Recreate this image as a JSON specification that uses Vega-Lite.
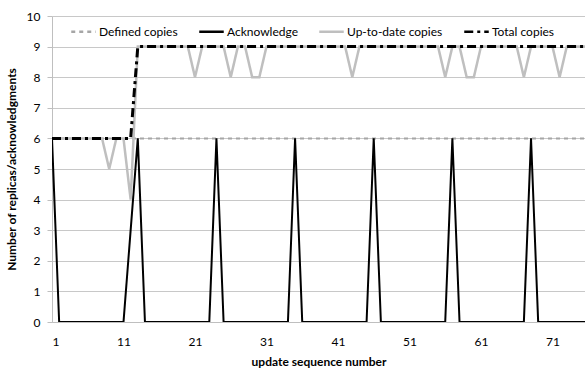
{
  "$schema": "https://vega.github.io/schema/vega-lite/v6.json",
  "width": 533,
  "height": 306,
  "autosize": {"type": "none"},
  "padding": {"left": 52, "top": 16, "right": 0, "bottom": 48},
  "config": {"view": {"stroke": null}, "font": "Lato", "background": "white"},
  "data": {"values": [
    {"x":1,"Defined copies":6,"Acknowledge":6,"Up-to-date copies":6,"Total copies":6},
    {"x":2,"Defined copies":6,"Acknowledge":0,"Up-to-date copies":6,"Total copies":6},
    {"x":3,"Defined copies":6,"Acknowledge":0,"Up-to-date copies":6,"Total copies":6},
    {"x":4,"Defined copies":6,"Acknowledge":0,"Up-to-date copies":6,"Total copies":6},
    {"x":5,"Defined copies":6,"Acknowledge":0,"Up-to-date copies":6,"Total copies":6},
    {"x":6,"Defined copies":6,"Acknowledge":0,"Up-to-date copies":6,"Total copies":6},
    {"x":7,"Defined copies":6,"Acknowledge":0,"Up-to-date copies":6,"Total copies":6},
    {"x":8,"Defined copies":6,"Acknowledge":0,"Up-to-date copies":6,"Total copies":6},
    {"x":9,"Defined copies":6,"Acknowledge":0,"Up-to-date copies":5,"Total copies":6},
    {"x":10,"Defined copies":6,"Acknowledge":0,"Up-to-date copies":6,"Total copies":6},
    {"x":11,"Defined copies":6,"Acknowledge":0,"Up-to-date copies":6,"Total copies":6},
    {"x":12,"Defined copies":6,"Acknowledge":3,"Up-to-date copies":4,"Total copies":6},
    {"x":13,"Defined copies":6,"Acknowledge":6,"Up-to-date copies":9,"Total copies":9},
    {"x":14,"Defined copies":6,"Acknowledge":0,"Up-to-date copies":9,"Total copies":9},
    {"x":15,"Defined copies":6,"Acknowledge":0,"Up-to-date copies":9,"Total copies":9},
    {"x":16,"Defined copies":6,"Acknowledge":0,"Up-to-date copies":9,"Total copies":9},
    {"x":17,"Defined copies":6,"Acknowledge":0,"Up-to-date copies":9,"Total copies":9},
    {"x":18,"Defined copies":6,"Acknowledge":0,"Up-to-date copies":9,"Total copies":9},
    {"x":19,"Defined copies":6,"Acknowledge":0,"Up-to-date copies":9,"Total copies":9},
    {"x":20,"Defined copies":6,"Acknowledge":0,"Up-to-date copies":9,"Total copies":9},
    {"x":21,"Defined copies":6,"Acknowledge":0,"Up-to-date copies":8,"Total copies":9},
    {"x":22,"Defined copies":6,"Acknowledge":0,"Up-to-date copies":9,"Total copies":9},
    {"x":23,"Defined copies":6,"Acknowledge":0,"Up-to-date copies":9,"Total copies":9},
    {"x":24,"Defined copies":6,"Acknowledge":6,"Up-to-date copies":9,"Total copies":9},
    {"x":25,"Defined copies":6,"Acknowledge":0,"Up-to-date copies":9,"Total copies":9},
    {"x":26,"Defined copies":6,"Acknowledge":0,"Up-to-date copies":8,"Total copies":9},
    {"x":27,"Defined copies":6,"Acknowledge":0,"Up-to-date copies":9,"Total copies":9},
    {"x":28,"Defined copies":6,"Acknowledge":0,"Up-to-date copies":9,"Total copies":9},
    {"x":29,"Defined copies":6,"Acknowledge":0,"Up-to-date copies":8,"Total copies":9},
    {"x":30,"Defined copies":6,"Acknowledge":0,"Up-to-date copies":8,"Total copies":9},
    {"x":31,"Defined copies":6,"Acknowledge":0,"Up-to-date copies":9,"Total copies":9},
    {"x":32,"Defined copies":6,"Acknowledge":0,"Up-to-date copies":9,"Total copies":9},
    {"x":33,"Defined copies":6,"Acknowledge":0,"Up-to-date copies":9,"Total copies":9},
    {"x":34,"Defined copies":6,"Acknowledge":0,"Up-to-date copies":9,"Total copies":9},
    {"x":35,"Defined copies":6,"Acknowledge":6,"Up-to-date copies":9,"Total copies":9},
    {"x":36,"Defined copies":6,"Acknowledge":0,"Up-to-date copies":9,"Total copies":9},
    {"x":37,"Defined copies":6,"Acknowledge":0,"Up-to-date copies":9,"Total copies":9},
    {"x":38,"Defined copies":6,"Acknowledge":0,"Up-to-date copies":9,"Total copies":9},
    {"x":39,"Defined copies":6,"Acknowledge":0,"Up-to-date copies":9,"Total copies":9},
    {"x":40,"Defined copies":6,"Acknowledge":0,"Up-to-date copies":9,"Total copies":9},
    {"x":41,"Defined copies":6,"Acknowledge":0,"Up-to-date copies":9,"Total copies":9},
    {"x":42,"Defined copies":6,"Acknowledge":0,"Up-to-date copies":9,"Total copies":9},
    {"x":43,"Defined copies":6,"Acknowledge":0,"Up-to-date copies":8,"Total copies":9},
    {"x":44,"Defined copies":6,"Acknowledge":0,"Up-to-date copies":9,"Total copies":9},
    {"x":45,"Defined copies":6,"Acknowledge":0,"Up-to-date copies":9,"Total copies":9},
    {"x":46,"Defined copies":6,"Acknowledge":6,"Up-to-date copies":9,"Total copies":9},
    {"x":47,"Defined copies":6,"Acknowledge":0,"Up-to-date copies":9,"Total copies":9},
    {"x":48,"Defined copies":6,"Acknowledge":0,"Up-to-date copies":9,"Total copies":9},
    {"x":49,"Defined copies":6,"Acknowledge":0,"Up-to-date copies":9,"Total copies":9},
    {"x":50,"Defined copies":6,"Acknowledge":0,"Up-to-date copies":9,"Total copies":9},
    {"x":51,"Defined copies":6,"Acknowledge":0,"Up-to-date copies":9,"Total copies":9},
    {"x":52,"Defined copies":6,"Acknowledge":0,"Up-to-date copies":9,"Total copies":9},
    {"x":53,"Defined copies":6,"Acknowledge":0,"Up-to-date copies":9,"Total copies":9},
    {"x":54,"Defined copies":6,"Acknowledge":0,"Up-to-date copies":9,"Total copies":9},
    {"x":55,"Defined copies":6,"Acknowledge":0,"Up-to-date copies":9,"Total copies":9},
    {"x":56,"Defined copies":6,"Acknowledge":0,"Up-to-date copies":8,"Total copies":9},
    {"x":57,"Defined copies":6,"Acknowledge":6,"Up-to-date copies":9,"Total copies":9},
    {"x":58,"Defined copies":6,"Acknowledge":0,"Up-to-date copies":9,"Total copies":9},
    {"x":59,"Defined copies":6,"Acknowledge":0,"Up-to-date copies":8,"Total copies":9},
    {"x":60,"Defined copies":6,"Acknowledge":0,"Up-to-date copies":8,"Total copies":9},
    {"x":61,"Defined copies":6,"Acknowledge":0,"Up-to-date copies":9,"Total copies":9},
    {"x":62,"Defined copies":6,"Acknowledge":0,"Up-to-date copies":9,"Total copies":9},
    {"x":63,"Defined copies":6,"Acknowledge":0,"Up-to-date copies":9,"Total copies":9},
    {"x":64,"Defined copies":6,"Acknowledge":0,"Up-to-date copies":9,"Total copies":9},
    {"x":65,"Defined copies":6,"Acknowledge":0,"Up-to-date copies":9,"Total copies":9},
    {"x":66,"Defined copies":6,"Acknowledge":0,"Up-to-date copies":9,"Total copies":9},
    {"x":67,"Defined copies":6,"Acknowledge":0,"Up-to-date copies":8,"Total copies":9},
    {"x":68,"Defined copies":6,"Acknowledge":6,"Up-to-date copies":9,"Total copies":9},
    {"x":69,"Defined copies":6,"Acknowledge":0,"Up-to-date copies":9,"Total copies":9},
    {"x":70,"Defined copies":6,"Acknowledge":0,"Up-to-date copies":9,"Total copies":9},
    {"x":71,"Defined copies":6,"Acknowledge":0,"Up-to-date copies":9,"Total copies":9},
    {"x":72,"Defined copies":6,"Acknowledge":0,"Up-to-date copies":8,"Total copies":9},
    {"x":73,"Defined copies":6,"Acknowledge":0,"Up-to-date copies":9,"Total copies":9},
    {"x":74,"Defined copies":6,"Acknowledge":0,"Up-to-date copies":9,"Total copies":9},
    {"x":75,"Defined copies":6,"Acknowledge":0,"Up-to-date copies":9,"Total copies":9},
    {"x":76,"Defined copies":6,"Acknowledge":0,"Up-to-date copies":9,"Total copies":9}
  ]},
  "transform": [
    {"fold": ["Defined copies", "Acknowledge", "Up-to-date copies", "Total copies"], "as": ["series", "value"]}
  ],
  "encoding": {
    "x": {
      "field": "x", "type": "quantitative",
      "scale": {"domain": [1, 75.55], "nice": false, "zero": false},
      "axis": {
        "values": [1, 11, 21, 31, 41, 51, 61, 71], "format": "d",
        "grid": false, "ticks": false, "domainColor": "#bfbfbf", "domainWidth": 1,
        "labelPadding": 14, "labelFontSize": 12, "labelColor": "#000000",
        "title": "update sequence number", "titleFontSize": 12, "titleFontWeight": "bold",
        "titleColor": "#000000", "titlePadding": 9
      }
    },
    "y": {
      "field": "value", "type": "quantitative",
      "scale": {"domain": [0, 10], "nice": false},
      "axis": {
        "values": [0, 1, 2, 3, 4, 5, 6, 7, 8, 9, 10],
        "grid": true, "gridColor": "#c8c8c8", "gridWidth": 1,
        "domainColor": "#bfbfbf", "tickColor": "#bfbfbf", "tickSize": 5,
        "labelPadding": 7, "labelFontSize": 12, "labelColor": "#000000",
        "title": "Number of replicas/acknowledgments", "titleFontSize": 12,
        "titleFontWeight": "bold", "titleColor": "#000000", "titlePadding": 8
      }
    },
    "color": {
      "field": "series", "type": "nominal",
      "scale": {
        "domain": ["Defined copies", "Acknowledge", "Up-to-date copies", "Total copies"],
        "range": ["#a6a6a6", "#000000", "#bfbfbf", "#000000"]
      },
      "legend": {
        "orient": "none", "legendX": 18, "legendY": 2, "direction": "horizontal",
        "title": null, "symbolType": "stroke", "symbolSize": 600, "symbolStrokeWidth": 2.5,
        "labelFontSize": 12, "labelColor": "#000000", "labelOffset": 2,
        "columnPadding": 16, "padding": 0
      }
    },
    "strokeDash": {
      "field": "series", "type": "nominal",
      "scale": {
        "domain": ["Defined copies", "Acknowledge", "Up-to-date copies", "Total copies"],
        "range": [[4, 4], [1, 0], [1, 0], [9, 4, 3, 4]]
      },
      "legend": {
        "orient": "none", "legendX": 18, "legendY": 2, "direction": "horizontal",
        "title": null, "symbolType": "stroke", "symbolSize": 600, "symbolStrokeWidth": 2.5,
        "labelFontSize": 12, "labelColor": "#000000", "labelOffset": 2,
        "columnPadding": 16, "padding": 0
      }
    }
  },
  "layer": [
    {"transform": [{"filter": "datum.series === 'Defined copies'"}], "mark": {"type": "line", "strokeWidth": 2, "clip": true}},
    {"transform": [{"filter": "datum.series === 'Acknowledge'"}], "mark": {"type": "line", "strokeWidth": 2, "clip": true}},
    {"transform": [{"filter": "datum.series === 'Up-to-date copies'"}], "mark": {"type": "line", "strokeWidth": 2.5, "clip": true}},
    {"transform": [{"filter": "datum.series === 'Total copies'"}], "mark": {"type": "line", "strokeWidth": 3, "clip": true}}
  ]
}
